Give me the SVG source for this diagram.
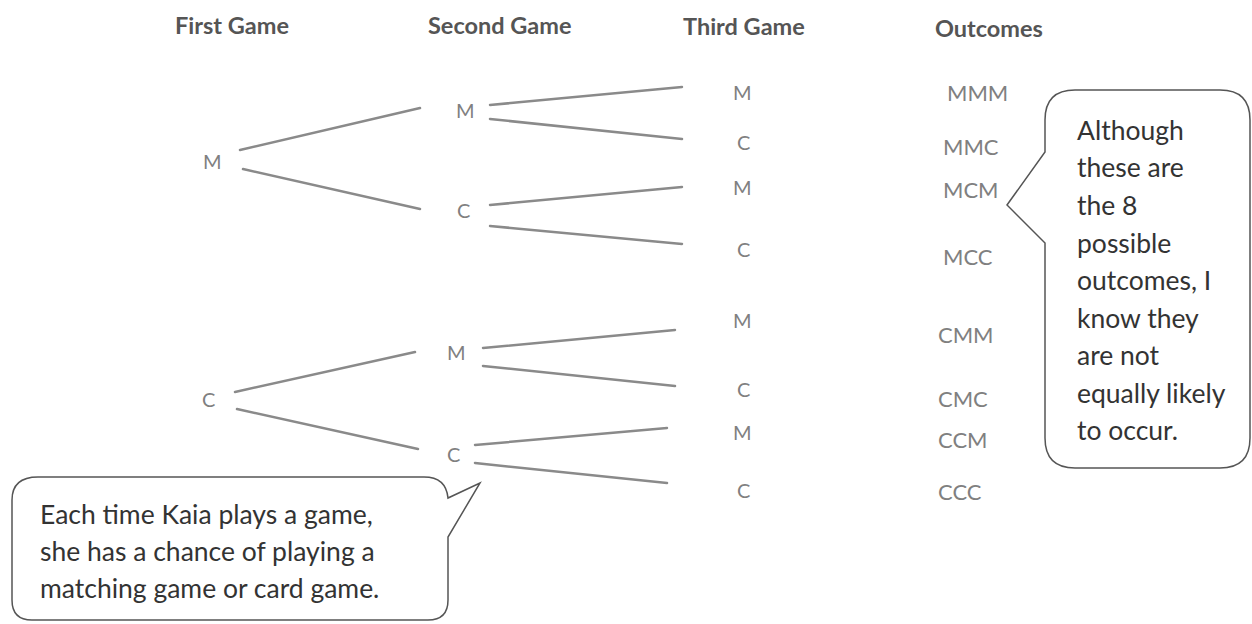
<svg xmlns="http://www.w3.org/2000/svg" width="1252" height="624" viewBox="0 0 1252 624">
<style>
.hdr{font-family:Lato,"Open Sans",sans-serif;font-weight:bold;font-size:23.5px;fill:#555}
.lbl{font-family:Lato,"Open Sans",sans-serif;font-size:20px;fill:#808080}
.out{font-family:Lato,"Open Sans",sans-serif;font-size:22px;fill:#808080}
.note{font-family:Lato,"Open Sans",sans-serif;font-size:26.5px;fill:#333}
.edge{stroke:#8a8a8a;stroke-width:2.5;fill:none;stroke-linecap:round}
.bubble{fill:#fff;stroke:#555;stroke-width:1.5}
</style>
<rect width="1252" height="624" fill="#fff"/>
<g id="headers">
<text class="hdr" x="175" y="34">First Game</text>
<text class="hdr" x="428" y="34">Second Game</text>
<text class="hdr" x="683" y="35">Third Game</text>
<text class="hdr" x="935" y="37">Outcomes</text>
</g>
<g id="connectors">
<line class="edge" x1="240" y1="150" x2="420" y2="108"/>
<line class="edge" x1="243" y1="169" x2="420" y2="209"/>
<line class="edge" x1="490" y1="105" x2="682" y2="87"/>
<line class="edge" x1="490" y1="119" x2="682" y2="139"/>
<line class="edge" x1="490" y1="205" x2="682" y2="187"/>
<line class="edge" x1="490" y1="226" x2="682" y2="244"/>
<line class="edge" x1="235" y1="392" x2="415" y2="352"/>
<line class="edge" x1="237" y1="409" x2="418" y2="449"/>
<line class="edge" x1="483" y1="348" x2="675" y2="330"/>
<line class="edge" x1="483" y1="366" x2="675" y2="386"/>
<line class="edge" x1="475" y1="445" x2="667" y2="428"/>
<line class="edge" x1="475" y1="463" x2="667" y2="483"/>
</g>
<g id="n-first-M"><text class="lbl" x="203" y="169">M</text></g>
<g id="n-first-C"><text class="lbl" x="202" y="407">C</text></g>
<g id="n-second-MM"><text class="lbl" x="456" y="118">M</text></g>
<g id="n-second-MC"><text class="lbl" x="457" y="218">C</text></g>
<g id="n-second-CM"><text class="lbl" x="447" y="360">M</text></g>
<g id="n-second-CC"><text class="lbl" x="447" y="462">C</text></g>
<g id="n-third-MMM"><text class="lbl" x="733" y="100">M</text></g>
<g id="n-third-MMC"><text class="lbl" x="737" y="150">C</text></g>
<g id="n-third-MCM"><text class="lbl" x="733" y="195">M</text></g>
<g id="n-third-MCC"><text class="lbl" x="737" y="257">C</text></g>
<g id="n-third-CMM"><text class="lbl" x="733" y="328">M</text></g>
<g id="n-third-CMC"><text class="lbl" x="737" y="397">C</text></g>
<g id="n-third-CCM"><text class="lbl" x="733" y="440">M</text></g>
<g id="n-third-CCC"><text class="lbl" x="737" y="498">C</text></g>
<g id="outcomes">
<text class="out" x="947" y="101">MMM</text>
<text class="out" x="943" y="155">MMC</text>
<text class="out" x="943" y="198">MCM</text>
<text class="out" x="943" y="265">MCC</text>
<text class="out" x="938" y="343">CMM</text>
<text class="out" x="938" y="407">CMC</text>
<text class="out" x="938" y="448">CCM</text>
<text class="out" x="938" y="500">CCC</text>
</g>
<g id="callout-right">
<path class="bubble" d="M1075,90 H1220 Q1250,90 1250,120 V438 Q1250,468 1220,468 H1075 Q1045,468 1045,438 V243 L1007,205 L1045,152 V120 Q1045,90 1075,90 Z"/>
<text class="note" x="1077" y="140">Although</text>
<text class="note" x="1077" y="177">these are</text>
<text class="note" x="1077" y="215">the 8</text>
<text class="note" x="1077" y="253">possible</text>
<text class="note" x="1077" y="290">outcomes, I</text>
<text class="note" x="1077" y="328">know they</text>
<text class="note" x="1077" y="365">are not</text>
<text class="note" x="1077" y="403">equally likely</text>
<text class="note" x="1077" y="440">to occur.</text>
</g>
<g id="callout-left">
<path class="bubble" d="M38,477 H424 Q446,477 448,498 L480,483 L448,537 V600 Q448,620 428,620 H32 Q12,620 12,600 V500 Q12,477 38,477 Z"/>
<text class="note" x="40" y="524">Each time Kaia plays a game,</text>
<text class="note" x="40" y="561">she has a chance of playing a</text>
<text class="note" x="40" y="598">matching game or card game.</text>
</g>
</svg>
